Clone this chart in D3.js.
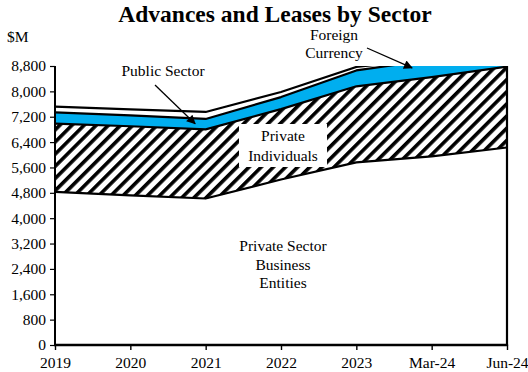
<!DOCTYPE html>
<html>
<head>
<meta charset="utf-8">
<script src="https://cdn.jsdelivr.net/npm/d3@7"></script>
<style>
  html, body { margin: 0; padding: 0; background: #fff; }
  svg { display: block; }
  text { font-family: "Liberation Serif", "Times New Roman", serif; fill: #000; }
</style>
</head>
<body>
<svg id="chart" width="528" height="372"></svg>
<script>
// Advances and leases by sector, $M (stacked, bottom to top)
const categories = ["2019", "2020", "2021", "2022", "2023", "Mar-24", "Jun-24"];
const businessEntities   = [4830, 4720, 4620, 5220, 5760, 5950, 6230];
const privateIndividuals = [2150, 2180, 2180, 2220, 2400, 2500, 2550];
const publicSector       = [360, 340, 330, 380, 500, 550, 560];
const foreignCurrency    = [180, 190, 220, 160, 110, 30, 20];
const yTickValues = [0, 800, 1600, 2400, 3200, 4000, 4800, 5600, 6400, 7200, 8000, 8800];

const seriesKeys = ["business", "individuals", "public", "foreign"];
const rows = categories.map((c, i) => ({
  cat: c,
  business: businessEntities[i],
  individuals: privateIndividuals[i],
  public: publicSector[i],
  foreign: foreignCurrency[i]
}));

const svg = d3.select("#chart");
const plotLeft = 55, plotRight = 507, plotTop = 66, plotBottom = 345;

const x = d3.scalePoint().domain(categories).range([plotLeft, plotRight]);
const y = d3.scaleLinear().domain([0, 8800]).range([plotBottom, plotTop]);

const stacked = d3.stack().keys(seriesKeys)(rows);

// hatch fill for private individuals
const defs = svg.append("defs");
const pat = defs.append("pattern")
  .attr("id", "hatch")
  .attr("patternUnits", "userSpaceOnUse")
  .attr("width", 8.6).attr("height", 8.6)
  .attr("patternTransform", "rotate(45)");
pat.append("rect").attr("width", 8.6).attr("height", 8.6).attr("fill", "#fff");
pat.append("rect").attr("x", 0).attr("width", 3.6).attr("height", 8.6).attr("fill", "#000");

defs.append("clipPath").attr("id", "plotClip")
  .append("rect")
  .attr("x", plotLeft).attr("y", plotTop)
  .attr("width", plotRight - plotLeft).attr("height", plotBottom - plotTop);

defs.append("marker")
  .attr("id", "arrowHead")
  .attr("viewBox", "0 0 10 10")
  .attr("refX", 9).attr("refY", 5)
  .attr("markerUnits", "userSpaceOnUse")
  .attr("markerWidth", 11).attr("markerHeight", 9)
  .attr("orient", "auto")
  .append("path").attr("d", "M0,0 L10,5 L0,10 Z").attr("fill", "#000");

const fills = { business: "#fff", individuals: "url(#hatch)", public: "#00AEEF", foreign: "#fff" };

const plot = svg.append("g").attr("clip-path", "url(#plotClip)");

const area = d3.area()
  .x(d => x(d.data.cat))
  .y0(d => y(d[0]))
  .y1(d => y(d[1]));

const topLine = d3.line()
  .x(d => x(d.data.cat))
  .y(d => y(d[1]));

plot.selectAll("path.layer")
  .data(stacked)
  .join("path")
  .attr("class", "layer")
  .attr("d", area)
  .attr("fill", d => fills[d.key]);

plot.selectAll("path.edge")
  .data(stacked)
  .join("path")
  .attr("class", "edge")
  .attr("d", topLine)
  .attr("fill", "none")
  .attr("stroke", "#000")
  .attr("stroke-width", 2.2)
  .attr("stroke-linejoin", "round");

// Axes
const yAxis = d3.axisLeft(y)
  .tickValues(yTickValues)
  .tickFormat(d3.format(","))
  .tickSize(5)
  .tickPadding(4);

const gy = svg.append("g").attr("transform", `translate(${plotLeft},0)`).call(yAxis);
gy.select(".domain").remove();
gy.selectAll(".tick line").attr("stroke", "#000").attr("stroke-width", 1.2);
gy.selectAll(".tick text")
  .style("font-family", "'Liberation Serif', serif")
  .style("font-size", "15.5px");

const xAxis = d3.axisBottom(x).tickSize(5).tickPadding(7);
const gx = svg.append("g").attr("transform", `translate(0,${plotBottom})`).call(xAxis);
gx.select(".domain").remove();
gx.selectAll(".tick line").attr("stroke", "#000").attr("stroke-width", 1.4);
gx.selectAll(".tick text")
  .style("font-family", "'Liberation Serif', serif")
  .style("font-size", "15.5px");

// frame lines: left axis, right edge, baseline
svg.append("line")
  .attr("x1", plotLeft).attr("x2", plotLeft).attr("y1", y(0)).attr("y2", y(8800))
  .attr("stroke", "#000").attr("stroke-width", 2);
svg.append("line")
  .attr("x1", plotRight).attr("x2", plotRight).attr("y1", y(0)).attr("y2", y(8800))
  .attr("stroke", "#000").attr("stroke-width", 2.2);
svg.append("line")
  .attr("x1", plotLeft - 1).attr("x2", plotRight + 1.1).attr("y1", y(0)).attr("y2", y(0))
  .attr("stroke", "#000").attr("stroke-width", 2.6);

// Title and unit
svg.append("text")
  .attr("x", 275).attr("y", 22)
  .attr("text-anchor", "middle")
  .style("font-size", "23.5px").style("font-weight", "bold")
  .text("Advances and Leases by Sector");

svg.append("text")
  .attr("x", 7).attr("y", 42)
  .style("font-size", "15.5px")
  .text("$M");

// Series labels
function multiLine(xc, y0, lh, lines) {
  const t = svg.append("text").attr("text-anchor", "middle").style("font-size", "15.5px");
  lines.forEach((s, i) => t.append("tspan").attr("x", xc).attr("y", y0 + i * lh).text(s));
  return t;
}

const xMid = x("2022") + 2;
svg.append("rect")
  .attr("x", xMid - 44).attr("y", 124)
  .attr("width", 88).attr("height", 43)
  .attr("fill", "#fff");
multiLine(xMid, 141, 20, ["Private", "Individuals"]);

multiLine(xMid, 251, 18.5, ["Private Sector", "Business", "Entities"]);

multiLine(163, 76, 0, ["Public Sector"]);
multiLine(334, 40, 18, ["Foreign", "Currency"]);

// Arrows toward the thin bands
function lerpX(i, t) { return x(categories[i]) + t * (x(categories[i + 1]) - x(categories[i])); }
function lerpV(arr, i, t) { return arr[i] + t * (arr[i + 1] - arr[i]); }

const pubIdx = 1, pubT = 0.86;
const pubLow = lerpV(businessEntities, pubIdx, pubT) + lerpV(privateIndividuals, pubIdx, pubT);
const pubMid = pubLow + lerpV(publicSector, pubIdx, pubT) / 2;
svg.append("line")
  .attr("x1", 155).attr("y1", 85)
  .attr("x2", lerpX(pubIdx, pubT)).attr("y2", y(pubMid))
  .attr("stroke", "#000").attr("stroke-width", 1.3)
  .attr("marker-end", "url(#arrowHead)");

const fcIdx = 4, fcT = 0.74;
svg.append("line")
  .attr("x1", 367).attr("y1", 48)
  .attr("x2", lerpX(fcIdx, fcT)).attr("y2", y(8740))
  .attr("stroke", "#000").attr("stroke-width", 1.3)
  .attr("marker-end", "url(#arrowHead)");
</script>
</body>
</html>
